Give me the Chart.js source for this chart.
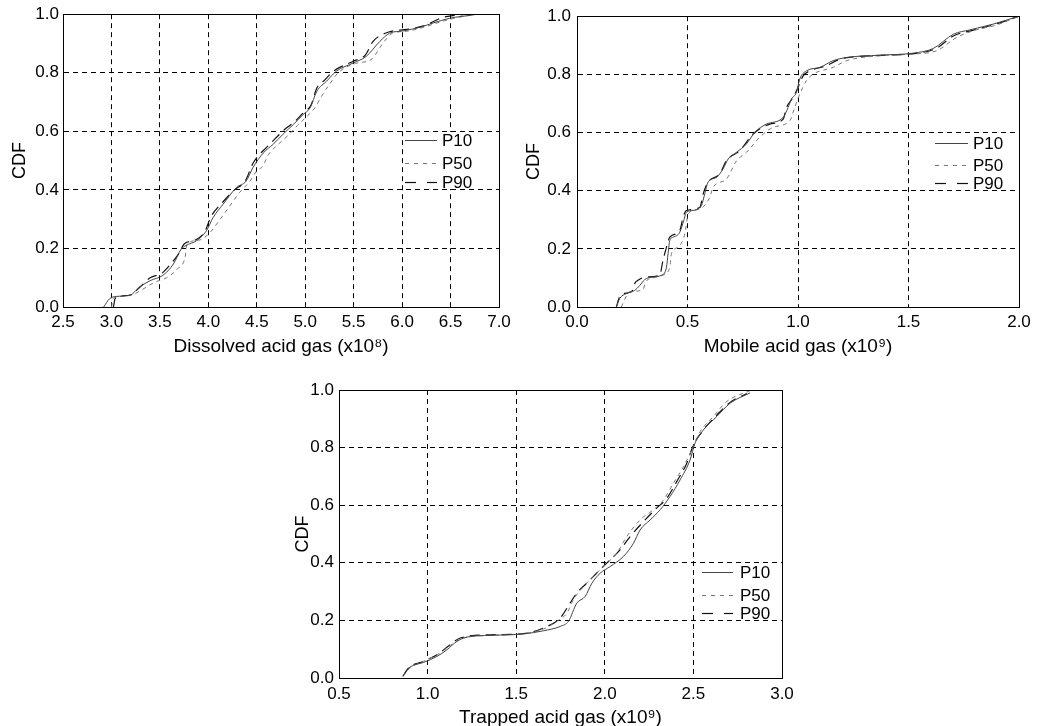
<!DOCTYPE html>
<html><head><meta charset="utf-8">
<script src="https://cdn.jsdelivr.net/npm/chart.js@4"></script>
<style>
html,body{margin:0;padding:0;background:#fff;overflow:hidden;width:1043px;height:726px;position:relative;}
canvas{position:absolute;}
</style></head><body>
<canvas id="c1" width="520" height="360" style="left:0;top:0"></canvas>
<canvas id="c2" width="523" height="360" style="left:520px;top:0"></canvas>
<canvas id="c3" width="520" height="360" style="left:290px;top:370px"></canvas>
<script>
// ---------- DATA ----------
const seriesNames = ['P10', 'P50', 'P90'];
const cdfTicks = [0.0, 0.2, 0.4, 0.6, 0.8, 1.0];

const dissolvedTicks = [2.5, 3.0, 3.5, 4.0, 4.5, 5.0, 5.5, 6.0, 6.5, 7.0];
const dissolvedP10X = [2.92,2.98,3.05,3.19,3.29,3.40,3.53,3.64,3.72,3.77,3.88,3.98,4.05,4.15,4.29,4.39,4.46,4.57,4.67,4.77,4.88,4.98,5.05,5.12,5.22,5.32,5.50,5.63,5.77,5.87,6.01,6.18,6.32,6.49,6.74,6.77];
const dissolvedP10Y = [0,0.028,0.036,0.04,0.068,0.09,0.108,0.147,0.198,0.21,0.227,0.26,0.306,0.35,0.408,0.43,0.476,0.527,0.556,0.59,0.624,0.658,0.68,0.737,0.771,0.805,0.834,0.856,0.907,0.935,0.943,0.955,0.97,0.986,0.998,1.0];
const dissolvedP50X = [3.00,3.02,3.08,3.22,3.32,3.45,3.57,3.68,3.76,3.78,3.90,4.02,4.10,4.20,4.32,4.43,4.50,4.56,4.62,4.72,4.82,4.92,5.02,5.10,5.16,5.26,5.34,5.52,5.68,5.80,5.90,6.05,6.22,6.36,6.52,6.76];
const dissolvedP50Y = [0,0.03,0.036,0.042,0.06,0.085,0.1,0.13,0.17,0.215,0.228,0.255,0.29,0.335,0.39,0.43,0.465,0.48,0.52,0.555,0.585,0.62,0.652,0.68,0.715,0.765,0.8,0.832,0.845,0.9,0.935,0.942,0.955,0.97,0.985,1.0];
const dissolvedP90X = [3.02,3.04,3.10,3.20,3.30,3.40,3.52,3.62,3.70,3.75,3.86,3.96,4.03,4.14,4.27,4.38,4.46,4.50,4.60,4.69,4.79,4.88,4.98,5.06,5.12,5.20,5.29,5.50,5.62,5.70,5.87,6.05,6.22,6.43,6.67];
const dissolvedP90Y = [0,0.03,0.038,0.042,0.07,0.1,0.115,0.15,0.185,0.215,0.228,0.255,0.31,0.355,0.4,0.43,0.49,0.51,0.545,0.575,0.607,0.63,0.663,0.69,0.748,0.775,0.805,0.84,0.86,0.907,0.94,0.948,0.96,0.99,1.0];

const mobileTicks = [0.0, 0.5, 1.0, 1.5, 2.0];
const mobileP10X = [0.178,0.193,0.223,0.261,0.284,0.306,0.344,0.382,0.405,0.412,0.420,0.435,0.465,0.483,0.495,0.525,0.563,0.578,0.593,0.631,0.661,0.684,0.722,0.767,0.805,0.857,0.933,0.955,0.970,0.993,1.008,1.038,1.099,1.159,1.220,1.370,1.521,1.612,1.703,1.778,1.884,2.0];
const mobileP10Y = [0,0.029,0.046,0.057,0.074,0.094,0.103,0.109,0.137,0.183,0.229,0.240,0.257,0.297,0.326,0.332,0.349,0.389,0.429,0.446,0.475,0.509,0.532,0.561,0.601,0.629,0.652,0.686,0.715,0.738,0.784,0.812,0.824,0.847,0.858,0.866,0.873,0.889,0.938,0.953,0.973,1.0];
const mobileP50X = [0.20,0.238,0.299,0.31,0.344,0.39,0.42,0.427,0.457,0.488,0.503,0.556,0.601,0.616,0.676,0.722,0.767,0.827,0.888,0.963,0.985,1.008,1.038,1.069,1.159,1.220,1.37,1.521,1.627,1.718,1.793,1.899,2.0];
const mobileP50Y = [0,0.051,0.06,0.085,0.1,0.11,0.137,0.183,0.206,0.252,0.32,0.338,0.378,0.412,0.44,0.503,0.532,0.584,0.618,0.641,0.686,0.732,0.778,0.801,0.824,0.847,0.864,0.87,0.881,0.927,0.95,0.97,1.0];
const mobileP90X = [0.178,0.193,0.238,0.254,0.261,0.276,0.314,0.374,0.389,0.405,0.420,0.465,0.480,0.495,0.556,0.571,0.593,0.646,0.676,0.737,0.797,0.873,0.933,0.948,0.978,1.0,1.023,1.054,1.129,1.189,1.25,1.40,1.536,1.627,1.703,1.793,1.884,2.0];
const mobileP90Y = [0,0.034,0.051,0.06,0.08,0.092,0.103,0.109,0.16,0.206,0.24,0.263,0.309,0.332,0.343,0.389,0.429,0.458,0.503,0.538,0.595,0.629,0.646,0.686,0.721,0.755,0.795,0.812,0.83,0.852,0.86,0.866,0.872,0.89,0.932,0.952,0.97,1.0];

const trappedTicks = [0.5, 1.0, 1.5, 2.0, 2.5, 3.0];
const trappedP10X = [0.861,0.883,0.921,0.977,1.053,1.109,1.165,1.222,1.353,1.541,1.654,1.748,1.795,1.842,1.889,1.927,1.974,2.030,2.105,2.162,2.199,2.256,2.312,2.368,2.425,2.481,2.509,2.556,2.632,2.707,2.820];
const trappedP10Y = [0.006,0.029,0.044,0.054,0.075,0.098,0.127,0.142,0.148,0.153,0.164,0.179,0.197,0.260,0.283,0.329,0.364,0.387,0.422,0.468,0.514,0.549,0.584,0.630,0.688,0.757,0.815,0.861,0.908,0.954,0.990];
const trappedP50X = [0.861,0.902,0.977,1.071,1.147,1.203,1.353,1.541,1.654,1.729,1.786,1.823,1.880,1.936,1.992,2.068,2.124,2.199,2.274,2.331,2.387,2.444,2.491,2.538,2.613,2.688,2.820];
const trappedP50Y = [0.006,0.035,0.058,0.087,0.121,0.139,0.148,0.154,0.170,0.197,0.225,0.272,0.318,0.353,0.387,0.434,0.491,0.549,0.584,0.618,0.676,0.734,0.792,0.855,0.908,0.960,0.998];
const trappedP90X = [0.861,0.893,0.977,1.053,1.128,1.184,1.353,1.541,1.673,1.748,1.804,1.842,1.898,1.936,2.011,2.086,2.143,2.218,2.293,2.350,2.406,2.462,2.500,2.556,2.632,2.707,2.801];
const trappedP90Y = [0.006,0.035,0.058,0.081,0.116,0.139,0.150,0.154,0.179,0.208,0.260,0.295,0.329,0.353,0.399,0.445,0.491,0.543,0.590,0.624,0.682,0.745,0.809,0.861,0.913,0.957,0.988];

// ---------- STYLE ----------
const FONT = '"Liberation Sans", Arial, sans-serif';
Chart.defaults.font.family = FONT;
Chart.defaults.color = '#000';

const lineStyles = [
  { color: '#444', width: 1, dash: [] },
  { color: '#777', width: 1, dash: [4, 4] },
  { color: '#111', width: 1.2, dash: [10, 6] }
];
const legendDashes = [[], [4, 5], [11, 11]];

function zip(xs, ys) { return xs.map((x, i) => ({ x: x, y: ys[i] })); }

const frame = {
  id: 'frame',
  afterDraw(chart) {
    const { ctx, chartArea: a } = chart;
    ctx.save();
    ctx.setLineDash([]);
    ctx.strokeStyle = '#000';
    ctx.lineWidth = 1;
    const l = Math.round(a.left - 0.5) + 0.5, t = Math.round(a.top - 0.5) + 0.5;
    const r = Math.round(a.right - 0.5) + 0.5, b = Math.round(a.bottom - 0.5) + 0.5;
    ctx.strokeRect(l, t, r - l, b - t);
    ctx.restore();
  }
};

const insideLegend = {
  id: 'insideLegend',
  afterDatasetsDraw(chart, args, o) {
    const ctx = chart.ctx;
    ctx.save();
    ctx.fillStyle = '#fff';
    ctx.fillRect(o.box[0], o.box[1], o.box[2], o.box[3]);
    chart.data.datasets.forEach((ds, i) => {
      const y = o.rows[i];
      ctx.strokeStyle = ds.borderColor;
      ctx.lineWidth = ds.borderWidth;
      ctx.setLineDash(legendDashes[i]);
      ctx.beginPath();
      ctx.moveTo(o.x0, Math.round(y) + 0.5);
      ctx.lineTo(o.x1, Math.round(y) + 0.5);
      ctx.stroke();
      ctx.setLineDash([]);
      ctx.fillStyle = '#000';
      ctx.font = '17px ' + FONT;
      ctx.textBaseline = 'middle';
      ctx.textAlign = 'left';
      ctx.fillText(ds.label, o.tx, y + 1);
    });
    ctx.restore();
  }
};

function makeChart(id, xTicks, xs, ys, xTitle, L) {
  const datasets = seriesNames.map((n, i) => ({
    label: n,
    data: zip(xs[i], ys[i]),
    showLine: true,
    borderColor: lineStyles[i].color,
    borderWidth: lineStyles[i].width,
    borderDash: lineStyles[i].dash,
    pointRadius: 0,
    fill: false,
    cubicInterpolationMode: 'monotone'
  }));
  return new Chart(document.getElementById(id), {
    type: 'scatter',
    data: { datasets },
    plugins: [insideLegend, frame],
    options: {
      responsive: false,
      animation: false,
      devicePixelRatio: 1,
      layout: { padding: { left: 0, top: L.top, right: L.right, bottom: 0 } },
      plugins: {
        legend: { display: false },
        tooltip: { enabled: false },
        insideLegend: L.legend
      },
      scales: {
        x: {
          type: 'linear',
          min: xTicks[0], max: xTicks[xTicks.length - 1],
          afterBuildTicks: s => { s.ticks = xTicks.map(v => ({ value: v })); },
          afterFit: s => { s.height = L.xh; },
          ticks: { font: { size: 17 }, padding: L.xpad, color: '#000', maxRotation: 0, autoSkip: false,
                   callback: v => Number(v).toFixed(1) },
          grid: { color: '#000', lineWidth: 1, drawTicks: false },
          border: { display: true, color: '#000', dash: [5, 4] },
          title: { display: true, text: xTitle, font: { size: 19 }, color: '#000', padding: { top: 0, bottom: L.xtb } }
        },
        y: {
          type: 'linear',
          min: 0, max: 1,
          afterBuildTicks: s => { s.ticks = cdfTicks.map(v => ({ value: v })); },
          afterFit: s => { s.width = L.yw; },
          ticks: { font: { size: 17 }, padding: L.ypad, color: '#000', autoSkip: false,
                   callback: v => Number(v).toFixed(1) },
          grid: { color: '#000', lineWidth: 1, drawTicks: false },
          border: { display: true, color: '#000', dash: [5, 4] },
          title: { display: true, text: 'CDF', font: { size: 18 }, color: '#000', padding: { top: L.ytt, bottom: 0 } }
        }
      }
    }
  });
}

makeChart('c1', dissolvedTicks,
  [dissolvedP10X, dissolvedP50X, dissolvedP90X],
  [dissolvedP10Y, dissolvedP50Y, dissolvedP90Y],
  'Dissolved acid gas (x10\u2078)',
  { top: 13, right: 21, yw: 63, xh: 53, xpad: 5, ypad: 4, xtb: 1.6, ytt: 9,
    legend: { box: [403, 132, 96, 57], rows: [140, 163, 182], x0: 405, x1: 437, tx: 442 } });

makeChart('c2', mobileTicks,
  [mobileP10X, mobileP50X, mobileP90X],
  [mobileP10Y, mobileP50Y, mobileP90Y],
  'Mobile acid gas (x10\u2079)',
  { top: 15, right: 24, yw: 57, xh: 53, xpad: 5, ypad: 6, xtb: 1.6, ytt: 3,
    legend: { box: [410, 134, 89, 54], rows: [143, 165, 183], x0: 415, x1: 448, tx: 453 } });

makeChart('c3', trappedTicks,
  [trappedP10X, trappedP50X, trappedP90X],
  [trappedP10Y, trappedP50Y, trappedP90Y],
  'Trapped acid gas (x10\u2079)',
  { top: 20, right: 28, yw: 49, xh: 52, xpad: 6, ypad: 5, xtb: 0.6, ytt: 2,
    legend: { box: [408, 194, 84, 53], rows: [202, 225, 243], x0: 412, x1: 443, tx: 450 } });
</script>
</body></html>
